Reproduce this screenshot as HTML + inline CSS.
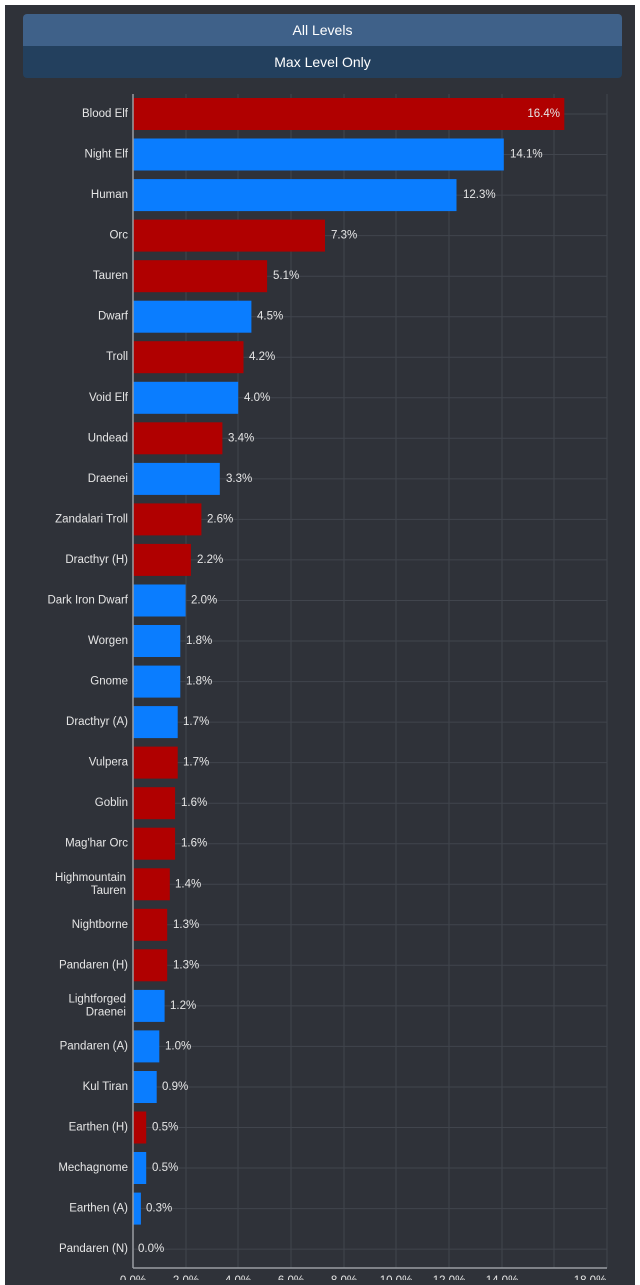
<!DOCTYPE html>
<html><head><meta charset="utf-8"><style>
body{margin:0;background:#fff;width:640px;height:1280px;overflow:hidden;font-family:"Liberation Sans",sans-serif}
.p{position:absolute;left:5px;top:5px;width:630px;height:1280px;background:#2f3239}
.b{position:absolute;left:23px;width:599px;height:32px;color:#fff;font-size:14px;text-align:center;line-height:32px}
</style></head><body>
<div class="p"></div>
<div class="b" style="top:14px;background:#3f6189;border-radius:4px 4px 0 0">All Levels</div>
<div class="b" style="top:46px;background:#23405e;border-radius:0 0 4px 4px">Max Level Only</div>
<svg width="640" height="1280" style="position:absolute;left:0;top:0" font-family="Liberation Sans, sans-serif" font-size="11.5">
<g stroke="#41454d" stroke-width="1">
<line x1="186" y1="94" x2="186" y2="1268"/><line x1="238" y1="94" x2="238" y2="1268"/><line x1="291" y1="94" x2="291" y2="1268"/><line x1="344" y1="94" x2="344" y2="1268"/><line x1="396" y1="94" x2="396" y2="1268"/><line x1="449" y1="94" x2="449" y2="1268"/><line x1="502" y1="94" x2="502" y2="1268"/><line x1="554" y1="94" x2="554" y2="1268"/><line x1="607" y1="94" x2="607" y2="1268"/>
<line x1="133" y1="114" x2="607" y2="114"/><line x1="133" y1="154.5" x2="607" y2="154.5"/><line x1="133" y1="195.1" x2="607" y2="195.1"/><line x1="133" y1="235.6" x2="607" y2="235.6"/><line x1="133" y1="276.2" x2="607" y2="276.2"/><line x1="133" y1="316.7" x2="607" y2="316.7"/><line x1="133" y1="357.2" x2="607" y2="357.2"/><line x1="133" y1="397.8" x2="607" y2="397.8"/><line x1="133" y1="438.3" x2="607" y2="438.3"/><line x1="133" y1="478.9" x2="607" y2="478.9"/><line x1="133" y1="519.4" x2="607" y2="519.4"/><line x1="133" y1="559.9" x2="607" y2="559.9"/><line x1="133" y1="600.5" x2="607" y2="600.5"/><line x1="133" y1="641" x2="607" y2="641"/><line x1="133" y1="681.6" x2="607" y2="681.6"/><line x1="133" y1="722.1" x2="607" y2="722.1"/><line x1="133" y1="762.6" x2="607" y2="762.6"/><line x1="133" y1="803.2" x2="607" y2="803.2"/><line x1="133" y1="843.7" x2="607" y2="843.7"/><line x1="133" y1="884.3" x2="607" y2="884.3"/><line x1="133" y1="924.8" x2="607" y2="924.8"/><line x1="133" y1="965.3" x2="607" y2="965.3"/><line x1="133" y1="1005.9" x2="607" y2="1005.9"/><line x1="133" y1="1046.4" x2="607" y2="1046.4"/><line x1="133" y1="1087" x2="607" y2="1087"/><line x1="133" y1="1127.5" x2="607" y2="1127.5"/><line x1="133" y1="1168" x2="607" y2="1168"/><line x1="133" y1="1208.6" x2="607" y2="1208.6"/><line x1="133" y1="1249.1" x2="607" y2="1249.1"/>
</g>
<g>
<rect x="133" y="98" width="431.3" height="32" fill="#b00000"/>
<rect x="133" y="138.5" width="370.8" height="32" fill="#0a7dff"/>
<rect x="133" y="179.1" width="323.5" height="32" fill="#0a7dff"/>
<rect x="133" y="219.6" width="192" height="32" fill="#b00000"/>
<rect x="133" y="260.2" width="134.1" height="32" fill="#b00000"/>
<rect x="133" y="300.7" width="118.4" height="32" fill="#0a7dff"/>
<rect x="133" y="341.2" width="110.5" height="32" fill="#b00000"/>
<rect x="133" y="381.8" width="105.2" height="32" fill="#0a7dff"/>
<rect x="133" y="422.3" width="89.4" height="32" fill="#b00000"/>
<rect x="133" y="462.9" width="86.8" height="32" fill="#0a7dff"/>
<rect x="133" y="503.4" width="68.4" height="32" fill="#b00000"/>
<rect x="133" y="543.9" width="57.9" height="32" fill="#b00000"/>
<rect x="133" y="584.5" width="52.6" height="32" fill="#0a7dff"/>
<rect x="133" y="625" width="47.3" height="32" fill="#0a7dff"/>
<rect x="133" y="665.6" width="47.3" height="32" fill="#0a7dff"/>
<rect x="133" y="706.1" width="44.7" height="32" fill="#0a7dff"/>
<rect x="133" y="746.6" width="44.7" height="32" fill="#b00000"/>
<rect x="133" y="787.2" width="42.1" height="32" fill="#b00000"/>
<rect x="133" y="827.7" width="42.1" height="32" fill="#b00000"/>
<rect x="133" y="868.3" width="36.8" height="32" fill="#b00000"/>
<rect x="133" y="908.8" width="34.2" height="32" fill="#b00000"/>
<rect x="133" y="949.3" width="34.2" height="32" fill="#b00000"/>
<rect x="133" y="989.9" width="31.6" height="32" fill="#0a7dff"/>
<rect x="133" y="1030.4" width="26.3" height="32" fill="#0a7dff"/>
<rect x="133" y="1071" width="23.7" height="32" fill="#0a7dff"/>
<rect x="133" y="1111.5" width="13.2" height="32" fill="#b00000"/>
<rect x="133" y="1152" width="13.2" height="32" fill="#0a7dff"/>
<rect x="133" y="1192.6" width="7.9" height="32" fill="#0a7dff"/>
</g>
<g stroke="#9a9da3" stroke-width="1.5">
<line x1="133" y1="94" x2="133" y2="1268"/><line x1="133" y1="1268" x2="607" y2="1268"/>
</g>
<g fill="#e6e6e6" text-anchor="end" dominant-baseline="central">
<text x="128" y="114">Blood Elf</text><text x="128" y="154.5">Night Elf</text><text x="128" y="195.1">Human</text><text x="128" y="235.6">Orc</text><text x="128" y="276.2">Tauren</text><text x="128" y="316.7">Dwarf</text><text x="128" y="357.2">Troll</text><text x="128" y="397.8">Void Elf</text><text x="128" y="438.3">Undead</text><text x="128" y="478.9">Draenei</text><text x="128" y="519.4">Zandalari Troll</text><text x="128" y="559.9">Dracthyr (H)</text><text x="128" y="600.5">Dark Iron Dwarf</text><text x="128" y="641">Worgen</text><text x="128" y="681.6">Gnome</text><text x="128" y="722.1">Dracthyr (A)</text><text x="128" y="762.6">Vulpera</text><text x="128" y="803.2">Goblin</text><text x="128" y="843.7">Mag'har Orc</text><text x="126" y="878">Highmountain</text><text x="126" y="891">Tauren</text><text x="128" y="924.8">Nightborne</text><text x="128" y="965.3">Pandaren (H)</text><text x="126" y="999.5">Lightforged</text><text x="126" y="1012.5">Draenei</text><text x="128" y="1046.4">Pandaren (A)</text><text x="128" y="1087">Kul Tiran</text><text x="128" y="1127.5">Earthen (H)</text><text x="128" y="1168">Mechagnome</text><text x="128" y="1208.6">Earthen (A)</text><text x="128" y="1249.1">Pandaren (N)</text>
</g>
<g fill="#e6e6e6" dominant-baseline="central">
<text x="560" y="114" text-anchor="end">16.4%</text>
<text x="510" y="154.5">14.1%</text><text x="463" y="195.1">12.3%</text><text x="331" y="235.6">7.3%</text><text x="273" y="276.2">5.1%</text><text x="257" y="316.7">4.5%</text><text x="249" y="357.2">4.2%</text><text x="244" y="397.8">4.0%</text><text x="228" y="438.3">3.4%</text><text x="226" y="478.9">3.3%</text><text x="207" y="519.4">2.6%</text><text x="197" y="559.9">2.2%</text><text x="191" y="600.5">2.0%</text><text x="186" y="641">1.8%</text><text x="186" y="681.6">1.8%</text><text x="183" y="722.1">1.7%</text><text x="183" y="762.6">1.7%</text><text x="181" y="803.2">1.6%</text><text x="181" y="843.7">1.6%</text><text x="175" y="884.3">1.4%</text><text x="173" y="924.8">1.3%</text><text x="173" y="965.3">1.3%</text><text x="170" y="1005.9">1.2%</text><text x="165" y="1046.4">1.0%</text><text x="162" y="1087">0.9%</text><text x="152" y="1127.5">0.5%</text><text x="152" y="1168">0.5%</text><text x="146" y="1208.6">0.3%</text><text x="138" y="1249.1">0.0%</text>
</g>
<g fill="#e6e6e6" text-anchor="middle">
<text x="133" y="1284">0.0%</text><text x="186" y="1284">2.0%</text><text x="238" y="1284">4.0%</text><text x="291" y="1284">6.0%</text><text x="344" y="1284">8.0%</text><text x="396" y="1284">10.0%</text><text x="449" y="1284">12.0%</text><text x="502" y="1284">14.0%</text><text x="590" y="1284">18.0%</text>
</g>
</svg>
</body></html>
